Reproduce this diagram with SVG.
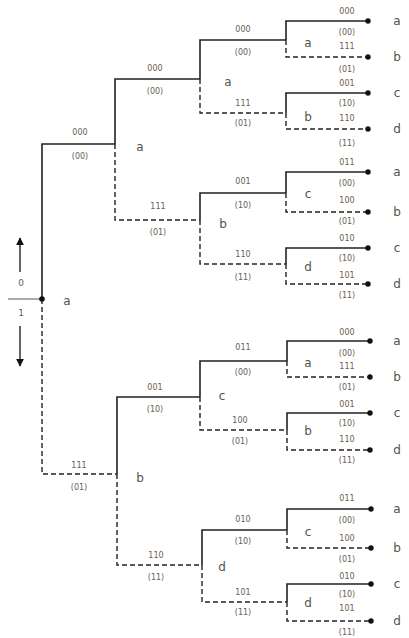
<svg xmlns="http://www.w3.org/2000/svg" width="409" height="638" viewBox="0 0 409 638">
<defs>
<marker id="ah" viewBox="0 0 10 10" refX="9" refY="5" markerWidth="6" markerHeight="6" orient="auto"><path d="M0,0 L10,5 L0,10 z" fill="#111"/></marker>
</defs>
<style>
.s{fill:none;stroke:#222;stroke-width:1.6}
.d{fill:none;stroke:#222;stroke-width:1.4;stroke-dasharray:5,3}
.n{font-family:"DejaVu Sans",sans-serif;font-size:8px;fill:#6b5d50;text-anchor:middle}
.l{font-family:"DejaVu Sans",sans-serif;font-size:12px;fill:#4f5548;text-anchor:middle}
.dot{fill:#111}
</style>
<rect width="409" height="638" fill="#fff"/>
<g id="legend">
<line x1="8" y1="299" x2="42" y2="299" stroke="#555" stroke-width="1"/>
<line x1="20" y1="272" x2="20" y2="238" stroke="#111" stroke-width="1.3" marker-end="url(#ah)"/>
<line x1="20" y1="326" x2="20" y2="366" stroke="#111" stroke-width="1.3" marker-end="url(#ah)"/>
<text class="n" x="21" y="286" style="font-size:9px">0</text>
<text class="n" x="21" y="316" style="font-size:9px">1</text>
</g>
<g id="connectors">
<path class="s" d="M42,299 V144 H115"/>
<path class="d" d="M42,299 V474 H117"/>
<path class="s" d="M115,144 V79 H200"/>
<path class="d" d="M115,144 V220 H200"/>
<path class="s" d="M117,474 V397 H200"/>
<path class="d" d="M117,474 V565 H202"/>
<path class="s" d="M200,79 V40 H286"/>
<path class="d" d="M200,79 V113 H286"/>
<path class="s" d="M200,220 V193 H286"/>
<path class="d" d="M200,220 V264 H286"/>
<path class="s" d="M200,397 V361 H287"/>
<path class="d" d="M200,397 V430 H287"/>
<path class="s" d="M202,565 V530 H287"/>
<path class="d" d="M202,565 V602 H287"/>
<path class="s" d="M286,40 V21 H368"/>
<path class="d" d="M286,40 V57 H368"/>
<path class="s" d="M286,113 V93 H368"/>
<path class="d" d="M286,113 V129 H368"/>
<path class="s" d="M286,193 V172 H368"/>
<path class="d" d="M286,193 V212 H368"/>
<path class="s" d="M286,264 V248 H368"/>
<path class="d" d="M286,264 V284 H368"/>
<path class="s" d="M287,361 V341 H370"/>
<path class="d" d="M287,361 V377 H370"/>
<path class="s" d="M287,430 V413 H370"/>
<path class="d" d="M287,430 V450 H370"/>
<path class="s" d="M287,530 V509 H371"/>
<path class="d" d="M287,530 V548 H371"/>
<path class="s" d="M287,602 V584 H371"/>
<path class="d" d="M287,602 V621 H371"/>
</g>
<g id="edge-labels">
<text class="n" x="80" y="135">000</text><text class="n" x="80" y="159">(00)</text>
<text class="n" x="79" y="468">111</text><text class="n" x="79" y="490">(01)</text>
<text class="n" x="155" y="71">000</text><text class="n" x="155" y="94">(00)</text>
<text class="n" x="158" y="209">111</text><text class="n" x="158" y="235">(01)</text>
<text class="n" x="155" y="390">001</text><text class="n" x="155" y="412">(10)</text>
<text class="n" x="156" y="558">110</text><text class="n" x="156" y="580">(11)</text>
<text class="n" x="243" y="32">000</text><text class="n" x="243" y="55">(00)</text>
<text class="n" x="243" y="106">111</text><text class="n" x="243" y="126">(01)</text>
<text class="n" x="243" y="184">001</text><text class="n" x="243" y="208">(10)</text>
<text class="n" x="243" y="257">110</text><text class="n" x="243" y="280">(11)</text>
<text class="n" x="243" y="350">011</text><text class="n" x="243" y="375">(00)</text>
<text class="n" x="240" y="423">100</text><text class="n" x="240" y="444">(01)</text>
<text class="n" x="243" y="522">010</text><text class="n" x="243" y="544">(10)</text>
<text class="n" x="243" y="595">101</text><text class="n" x="243" y="615">(11)</text>
<text class="n" x="347" y="14">000</text><text class="n" x="347" y="35">(00)</text>
<text class="n" x="347" y="49">111</text><text class="n" x="347" y="72">(01)</text>
<text class="n" x="347" y="86">001</text><text class="n" x="347" y="106">(10)</text>
<text class="n" x="347" y="121">110</text><text class="n" x="347" y="146">(11)</text>
<text class="n" x="347" y="165">011</text><text class="n" x="347" y="186">(00)</text>
<text class="n" x="347" y="203">100</text><text class="n" x="347" y="224">(01)</text>
<text class="n" x="347" y="241">010</text><text class="n" x="347" y="261">(10)</text>
<text class="n" x="347" y="278">101</text><text class="n" x="347" y="298">(11)</text>
<text class="n" x="347" y="335">000</text><text class="n" x="347" y="356">(00)</text>
<text class="n" x="347" y="369">111</text><text class="n" x="347" y="390">(01)</text>
<text class="n" x="347" y="407">001</text><text class="n" x="347" y="426">(10)</text>
<text class="n" x="347" y="442">110</text><text class="n" x="347" y="463">(11)</text>
<text class="n" x="347" y="501">011</text><text class="n" x="347" y="523">(00)</text>
<text class="n" x="347" y="541">100</text><text class="n" x="347" y="562">(01)</text>
<text class="n" x="347" y="579">010</text><text class="n" x="347" y="597">(10)</text>
<text class="n" x="347" y="611">101</text><text class="n" x="347" y="635">(11)</text>
</g>
<g id="root"><circle class="dot" cx="42" cy="299" r="2.8"/><text class="l" x="67" y="305">a</text></g>
<g id="n-a1"><text class="l" x="140" y="151">a</text></g>
<g id="n-b1"><text class="l" x="140" y="482">b</text></g>
<g id="n-a2"><text class="l" x="228" y="86">a</text></g>
<g id="n-b2"><text class="l" x="223" y="228">b</text></g>
<g id="n-c2"><text class="l" x="222" y="400">c</text></g>
<g id="n-d2"><text class="l" x="222" y="571">d</text></g>
<g id="n-a3"><text class="l" x="308" y="47">a</text></g>
<g id="n-b3"><text class="l" x="308" y="121">b</text></g>
<g id="n-c3"><text class="l" x="308" y="198">c</text></g>
<g id="n-d3"><text class="l" x="308" y="271">d</text></g>
<g id="n-a4"><text class="l" x="308" y="367">a</text></g>
<g id="n-b4"><text class="l" x="308" y="435">b</text></g>
<g id="n-c4"><text class="l" x="308" y="536">c</text></g>
<g id="n-d4"><text class="l" x="308" y="607">d</text></g>
<g id="leaves">
<g id="leaf1"><circle class="dot" cx="368" cy="21" r="2.7"/><text class="l" x="397" y="25">a</text></g>
<g id="leaf2"><circle class="dot" cx="368" cy="57" r="2.7"/><text class="l" x="397" y="61">b</text></g>
<g id="leaf3"><circle class="dot" cx="368" cy="93" r="2.7"/><text class="l" x="397" y="97">c</text></g>
<g id="leaf4"><circle class="dot" cx="368" cy="129" r="2.7"/><text class="l" x="397" y="133">d</text></g>
<g id="leaf5"><circle class="dot" cx="368" cy="172" r="2.7"/><text class="l" x="397" y="176">a</text></g>
<g id="leaf6"><circle class="dot" cx="368" cy="212" r="2.7"/><text class="l" x="397" y="216">b</text></g>
<g id="leaf7"><circle class="dot" cx="368" cy="248" r="2.7"/><text class="l" x="397" y="252">c</text></g>
<g id="leaf8"><circle class="dot" cx="368" cy="284" r="2.7"/><text class="l" x="397" y="288">d</text></g>
<g id="leaf9"><circle class="dot" cx="370" cy="341" r="2.7"/><text class="l" x="397" y="345">a</text></g>
<g id="leaf10"><circle class="dot" cx="370" cy="377" r="2.7"/><text class="l" x="397" y="381">b</text></g>
<g id="leaf11"><circle class="dot" cx="370" cy="413" r="2.7"/><text class="l" x="397" y="417">c</text></g>
<g id="leaf12"><circle class="dot" cx="370" cy="450" r="2.7"/><text class="l" x="397" y="454">d</text></g>
<g id="leaf13"><circle class="dot" cx="371" cy="509" r="2.7"/><text class="l" x="397" y="513">a</text></g>
<g id="leaf14"><circle class="dot" cx="371" cy="548" r="2.7"/><text class="l" x="397" y="552">b</text></g>
<g id="leaf15"><circle class="dot" cx="371" cy="584" r="2.7"/><text class="l" x="397" y="588">c</text></g>
<g id="leaf16"><circle class="dot" cx="371" cy="621" r="2.7"/><text class="l" x="397" y="625">d</text></g>
</g>
</svg>
